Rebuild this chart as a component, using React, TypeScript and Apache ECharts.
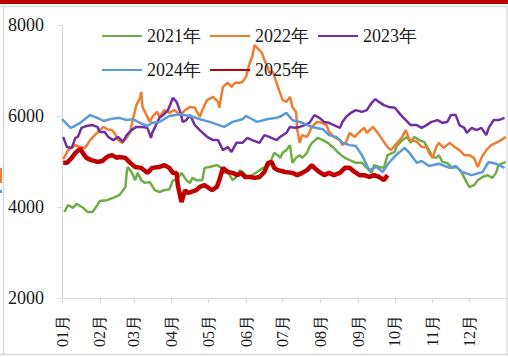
import React, { useEffect, useRef } from "react";
import * as echarts from "echarts";

const monthLabels = ["01月", "02月", "03月", "04月", "05月", "06月", "07月", "08月", "09月", "10月", "11月", "12月"];
const monthStartDays = [0, 31, 59, 90, 120, 151, 181, 212, 243, 273, 304, 334];
const yTicks = [2000, 4000, 6000, 8000];
const seriesNames = ["2021年", "2022年", "2023年", "2024年", "2025年"];

// [day of year, value]
const data2021 = [
  [2, 3890], [5, 4040], [9, 3980], [12, 4070], [17, 3990], [21, 3890], [25, 3890], [29, 4040], [31, 4130],
  [37, 4150], [42, 4200], [47, 4260], [52, 4440], [53, 4750], [54, 4880], [57, 4770], [60, 4590], [62, 4750],
  [65, 4590], [68, 4530], [72, 4550], [76, 4370], [80, 4330], [84, 4370], [88, 4390], [91, 4590], [94, 4590],
  [98, 4750], [102, 4590], [105, 4530], [107, 4640], [110, 4590], [115, 4590], [117, 4860], [121, 4880],
  [127, 4920], [131, 4860], [133, 4750], [136, 4770], [140, 4590], [143, 4660], [146, 4810], [148, 4770],
  [152, 4660], [156, 4700], [160, 4770], [165, 4860], [168, 4880], [170, 4920], [174, 5190], [177, 5140],
  [179, 5080], [181, 5190], [184, 5250], [187, 5360], [189, 4970], [192, 5080], [195, 5140], [197, 5080],
  [201, 5190], [203, 5320], [205, 5410], [210, 5520], [214, 5470], [218, 5410], [222, 5320], [226, 5210],
  [229, 5140], [232, 5080], [236, 5030], [241, 4970], [246, 4970], [250, 4860], [254, 4750], [256, 4920],
  [260, 4880], [264, 4860], [267, 5140], [273, 5210], [274, 5320], [279, 5470], [283, 5540], [286, 5410],
  [289, 5540], [293, 5470], [297, 5430], [301, 5250], [304, 5100], [307, 5080], [309, 5140], [312, 4990],
  [316, 4970], [320, 4860], [324, 4880], [328, 4750], [331, 4590], [334, 4440], [338, 4480], [341, 4590],
  [345, 4660], [349, 4700], [353, 4640], [356, 4750], [358, 4920], [364, 4990],
];
const data2022 = [
  [1, 5050], [5, 5250], [11, 5360], [15, 5320], [19, 5300], [23, 5470], [27, 5580], [31, 5690], [34, 5760],
  [37, 5710], [41, 5690], [43, 5630], [46, 5470], [49, 5410], [53, 5520], [56, 5650], [58, 5910], [61, 6240],
  [64, 6400], [65, 6530], [66, 6200], [70, 5980], [72, 5870], [74, 5980], [78, 6090], [80, 5980], [84, 6130],
  [88, 6070], [92, 6130], [97, 6020], [101, 6130], [105, 6200], [109, 6180], [113, 5980], [115, 6130],
  [119, 6350], [124, 6420], [128, 6310], [129, 6180], [132, 6640], [136, 6730], [139, 6640], [142, 6730],
  [146, 6730], [148, 6750], [151, 6860], [154, 7170], [156, 7300], [158, 7560], [160, 7500], [164, 7390],
  [166, 7230], [169, 7060], [170, 6950], [173, 6970], [176, 6730], [178, 6570], [181, 6350], [184, 6310],
  [187, 6420], [189, 6200], [192, 6090], [193, 5690], [195, 5410], [197, 5580], [201, 5540], [205, 5760],
  [209, 5870], [213, 5850], [217, 5800], [219, 5650], [223, 5540], [228, 5470], [230, 5360], [233, 5430],
  [236, 5630], [240, 5540], [244, 5650], [248, 5740], [250, 5630], [255, 5760], [259, 5630], [263, 5470],
  [267, 5320], [270, 5250], [273, 5360], [275, 5410], [279, 5540], [282, 5690], [285, 5470], [287, 5470],
  [291, 5430], [295, 5320], [299, 5320], [301, 5190], [304, 5080], [307, 5320], [309, 5410], [313, 5300],
  [318, 5410], [322, 5320], [326, 5250], [330, 5140], [334, 5140], [338, 5080], [341, 4880], [344, 5080],
  [348, 5250], [352, 5360], [356, 5410], [360, 5470], [364, 5540],
];
const data2023 = [
  [1, 5540], [4, 5320], [8, 5300], [11, 5520], [13, 5540], [16, 5740], [20, 5780], [25, 5800], [29, 5760],
  [31, 5650], [35, 5650], [38, 5540], [42, 5470], [46, 5540], [50, 5430], [53, 5580], [57, 5690], [61, 5760],
  [66, 5760], [70, 5740], [73, 5520], [74, 5630], [78, 5850], [80, 5960], [83, 6020], [87, 6130], [91, 6400],
  [94, 6310], [97, 6090], [99, 5870], [102, 5910], [105, 6020], [109, 5800], [113, 5690], [119, 5540],
  [124, 5470], [128, 5470], [132, 5250], [136, 5320], [139, 5210], [143, 5410], [148, 5410], [152, 5520],
  [156, 5470], [162, 5410], [166, 5580], [170, 5540], [176, 5470], [178, 5520], [184, 5630], [187, 5760],
  [191, 5740], [195, 5760], [199, 5800], [203, 5850], [207, 6020], [211, 5960], [215, 5870], [219, 5850],
  [223, 5800], [228, 5740], [230, 5870], [233, 5980], [237, 6070], [241, 6130], [246, 6090], [250, 6130],
  [254, 6290], [257, 6370], [260, 6310], [264, 6240], [268, 6200], [273, 6180], [278, 6020], [282, 5910],
  [286, 5800], [291, 5800], [295, 5740], [299, 5800], [303, 5870], [308, 5910], [312, 5850], [316, 5870],
  [319, 6020], [323, 6020], [326, 5800], [330, 5740], [332, 5630], [336, 5740], [340, 5690], [344, 5740],
  [348, 5580], [350, 5740], [354, 5910], [358, 5910], [363, 5960],
];
const data2024 = [
  [0, 5930], [7, 5740], [9, 5760], [15, 5850], [23, 6020], [29, 5960], [34, 5890], [39, 5930], [47, 5960],
  [53, 5910], [58, 5930], [64, 5850], [70, 5780], [74, 5850], [80, 5870], [88, 6000], [97, 6040], [105, 6000],
  [113, 5930], [121, 5870], [133, 5760], [140, 5870], [148, 5930], [151, 6000], [160, 5870], [168, 5930],
  [176, 5960], [180, 6000], [184, 6070], [189, 5910], [197, 5850], [205, 5760], [214, 5710], [219, 5580],
  [225, 5540], [230, 5410], [236, 5360], [241, 5340], [246, 5140], [252, 4810], [258, 4880], [263, 4770],
  [268, 4970], [274, 5140], [281, 5300], [285, 5190], [291, 4970], [295, 5010], [301, 4900], [309, 4950],
  [318, 4860], [323, 4900], [328, 4770], [336, 4700], [345, 4770], [350, 4990], [356, 4950], [363, 4860],
];
const data2025 = [
  [1, 4970], [4, 4970], [8, 5080], [11, 5190], [15, 5280], [17, 5190], [20, 5080], [24, 5030], [29, 4990],
  [33, 5010], [37, 5100], [41, 5140], [45, 5080], [47, 5100], [52, 5080], [56, 4970], [60, 4880], [65, 4860],
  [70, 4750], [74, 4860], [80, 4880], [84, 4920], [88, 4860], [91, 4750], [94, 4750], [95, 4480], [98, 4110],
  [101, 4370], [103, 4310], [106, 4330], [110, 4370], [113, 4440], [117, 4480], [119, 4440], [123, 4370],
  [127, 4440], [129, 4590], [132, 4860], [136, 4770], [140, 4750], [144, 4700], [147, 4750], [150, 4660],
  [154, 4660], [158, 4640], [162, 4660], [166, 4770], [169, 4970], [172, 4990], [174, 4860], [177, 4810],
  [183, 4770], [189, 4750], [193, 4700], [197, 4750], [201, 4810], [205, 4920], [207, 4860], [211, 4770],
  [215, 4700], [219, 4750], [223, 4700], [228, 4750], [232, 4860], [236, 4860], [240, 4770], [244, 4700],
  [248, 4700], [252, 4660], [256, 4700], [260, 4660], [264, 4590], [267, 4700],
];

const seriesData = [data2021, data2022, data2023, data2024, data2025];
const colors = ["#70AD47", "#ED7D31", "#7030A0", "#5B9BD5", "#C00000"];
const widths = [2.5, 2.5, 2.5, 2.5, 4.5];

const FONT = "Liberation Serif";

export default function App() {
  const ref = useRef<HTMLDivElement>(null);
  useEffect(() => {
    if (!ref.current) return;
    const chart = echarts.init(ref.current, null, { renderer: "svg" });
    const legendCommon = {
      orient: "horizontal",
      left: 96,
      itemWidth: 40,
      itemHeight: 18,
      itemGap: 8,
      itemStyle: { opacity: 0 },
      textStyle: { fontFamily: FONT, fontSize: 18, color: "#1a1a1a" },
    };
    chart.setOption({
      animation: false,
      backgroundColor: "#ffffff",
      textStyle: { fontFamily: FONT },
      grid: { left: 62, right: 1, top: 25, bottom: 59, outerBoundsMode: "none", containLabel: false },
      legend: [
        { ...legendCommon, top: 22, data: seriesNames.slice(0, 3) },
        { ...legendCommon, top: 56, data: seriesNames.slice(3) },
      ],
      xAxis: {
        type: "value",
        min: 0,
        max: 365,
        splitLine: { show: false },
        axisLine: { show: true, lineStyle: { color: "#d9d9d9", width: 1 } },
        axisTick: { show: true, length: 5, lineStyle: { color: "#d9d9d9" }, customValues: monthStartDays },
        axisLabel: {
          customValues: monthStartDays,
          rotate: 90,
          margin: 17,
          fontFamily: FONT,
          fontSize: 16,
          color: "#1a1a1a",
          formatter: (v: number) => {
            const i = monthStartDays.indexOf(Math.round(v));
            return i >= 0 ? monthLabels[i] : "";
          },
        },
      },
      yAxis: {
        type: "value",
        min: yTicks[0],
        max: yTicks[yTicks.length - 1],
        interval: 2000,
        splitLine: { show: false },
        axisLine: { show: true, lineStyle: { color: "#d9d9d9", width: 1 } },
        axisTick: { show: true, length: 5, lineStyle: { color: "#d9d9d9" } },
        axisLabel: {
          margin: 18,
          fontFamily: FONT,
          fontSize: 18,
          color: "#1a1a1a",
          formatter: (v: number) => String(v),
        },
      },
      series: seriesNames.map((name, i) => ({
        name,
        type: "line",
        data: seriesData[i],
        symbol: "none",
        showSymbol: false,
        z: i === 4 ? 5 : 2,
        lineStyle: { color: colors[i], width: widths[i] },
        itemStyle: { color: colors[i] },
      })),
      graphic: [
        { type: "rect", shape: { x: 0, y: 0, width: 508, height: 4 }, style: { fill: "#C00000" } },
        { type: "line", shape: { x1: 0, y1: 6.5, x2: 508, y2: 6.5 }, style: { stroke: "#d9d9d9", lineWidth: 1.5 } },
        { type: "line", shape: { x1: 3.5, y1: 7, x2: 3.5, y2: 354 }, style: { stroke: "#d9d9d9", lineWidth: 1.5 } },
        { type: "line", shape: { x1: 507, y1: 7, x2: 507, y2: 354 }, style: { stroke: "#e0e0e0", lineWidth: 1.5 } },
        { type: "line", shape: { x1: 0, y1: 354.5, x2: 508, y2: 354.5 }, style: { stroke: "#d9d9d9", lineWidth: 1.5 } },
        { type: "rect", shape: { x: 0, y: 168, width: 2, height: 15 }, style: { fill: "#ED7D31" } },
        { type: "rect", shape: { x: 0, y: 190, width: 2, height: 3 }, style: { fill: "#5B9BD5" } },
      ],
    });
    return () => chart.dispose();
  }, []);
  return <div ref={ref} style={{ position: "fixed", left: 0, top: 0, width: 508, height: 357 }} />;
}
